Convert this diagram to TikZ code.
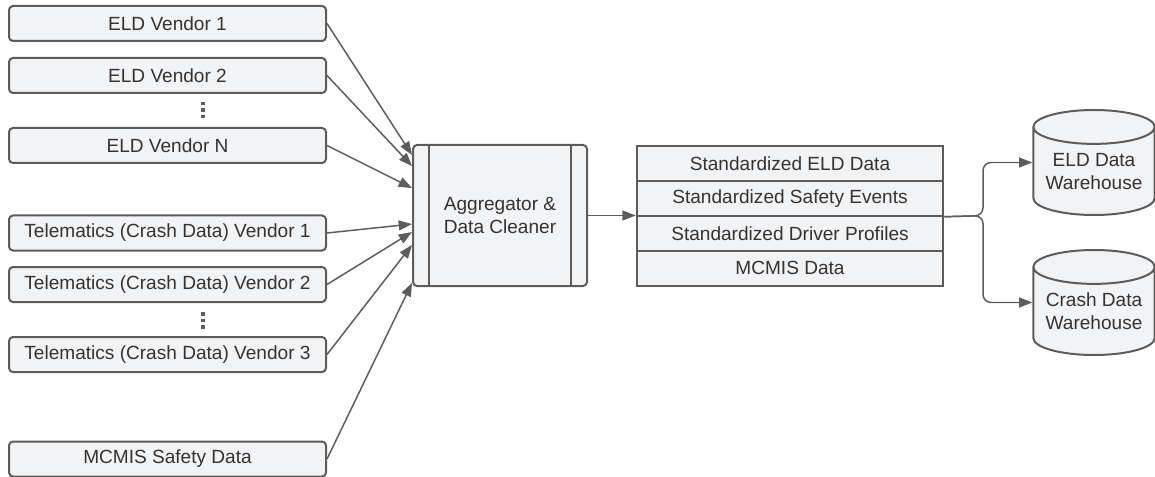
\documentclass[tikz,border=0pt]{standalone}
\usepackage{fontspec}
\setmainfont{Liberation Sans}
\usepackage{xcolor}
\usetikzlibrary{arrows.meta}
\usetikzlibrary{positioning}
\usetikzlibrary{shapes.geometric}

\definecolor{boxfill}{HTML}{F2F3F5}
\definecolor{edgegray}{HTML}{5C5C5C}
\definecolor{textgray}{HTML}{333333}

\tikzset{
    basebox/.style={draw=edgegray, line width=1.5pt, fill=boxfill, inner sep=0pt,
        text=textgray, font=\fontsize{14.3}{17.25}\selectfont, align=center},
    srcbox/.style={basebox, rounded corners=3pt, minimum width=237.75pt, minimum height=26.25pt},
    aggbox/.style={basebox, rounded corners=3pt, minimum width=130.5pt, minimum height=105.75pt},
    stackrow/.style={basebox, minimum width=230pt, minimum height=26.25pt},
    store/.style={basebox, cylinder, shape border rotate=90, aspect=0.35,
        minimum width=91pt, minimum height=78.75pt, anchor=shape center},
    flow/.style={->, >={Triangle[length=10pt, width=7.5pt]}, draw=edgegray, line width=1.1pt},
}

\begin{document}
\begin{tikzpicture}[x=0.75pt, y=-0.75pt]
            \useasboundingbox (0,0) rectangle (1155,477);

            % sources
            \node[srcbox] (eld1) at (167.5, 23.5) {ELD Vendor 1};
            \node[srcbox] (eld2) at (167.5, 75.5) {ELD Vendor 2};
            \node[srcbox] (eldn) at (167.5, 145.5) {ELD Vendor N};
            \node[srcbox] (tel1) at (167.5, 233) {Telematics (Crash Data) Vendor 1};
            \node[srcbox] (tel2) at (167.5, 284.5) {Telematics (Crash Data) Vendor 2};
            \node[srcbox] (tel3) at (167.5, 354.5) {Telematics (Crash Data) Vendor 3};
            \node[srcbox] (mcmis) at (167.5, 459) {MCMIS Safety Data};

            \foreach \y in {110, 320.5}{
                \foreach \d in {-6.5, 0, 6.5}{
                    \fill[edgegray] (201.3, \y+\d-1.75) rectangle ++(3.5, 3.5);
                }
            }

            % aggregator
            \node[aggbox] (agg) at (500, 215.5) {Aggregator \&\\Data Cleaner};
            \draw[edgegray, line width=1.5pt]([xshift=12.75pt]agg.north west)--([xshift=12.75pt]agg.south west);
            \draw[edgegray, line width=1.5pt]([xshift=-12.75pt]agg.north east)--([xshift=-12.75pt]agg.south east);

            \draw[flow](eld1.east)--([yshift=45.4pt]agg.west);
            \draw[flow](eld2.east)--([yshift=37.1pt]agg.west);
            \draw[flow](eldn.east)--([yshift=20.6pt]agg.west);
            \draw[flow](tel1.east)--([yshift=-6.4pt]agg.west);
            \draw[flow](tel2.east)--([yshift=-12.4pt]agg.west);
            \draw[flow](tel3.east)--([yshift=-22.1pt]agg.west);
            \draw[flow](mcmis.east)--([yshift=-50.6pt]agg.west);

            % standardized data
            \node[stackrow] (std1) at (790, 163.2) {Standardized ELD Data};
            \node[stackrow] (std2) at (790, 198.2) {Standardized Safety Events};
            \node[stackrow] (std3) at (790, 233.2) {Standardized Driver Profiles};
            \node[stackrow] (std4) at (790, 268.2) {MCMIS Data};

            \draw[flow](agg.east)--(agg.east -| std2.south west);

            % warehouses
            \node[store] (eldwh) at (1094, 162.5) {ELD Data\\Warehouse};
            \node[store] (crashwh) at (1094, 302.5) {Crash Data\\Warehouse};

            \coordinate (fork) at (983, 215.7);
            \draw[flow, rounded corners=6pt](std2.south east)--(fork)|-(eldwh.shape center -| eldwh.west);
            \draw[flow, rounded corners=6pt](std2.south east)--(fork)|-(crashwh.shape center -| crashwh.west);

        \end{tikzpicture}
\end{document}
